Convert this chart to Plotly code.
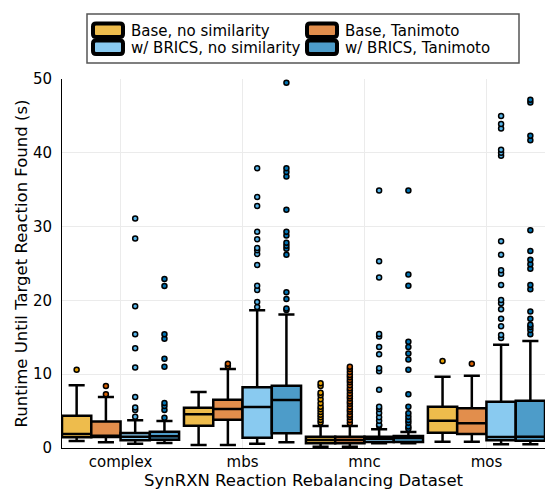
import plotly.graph_objects as go

categories = ["complex", "mbs", "mnc", "mos"]
series_names = ["Base, no similarity", "Base, Tanimoto",
                "w/ BRICS, no similarity", "w/ BRICS, Tanimoto"]
x_title = "SynRXN Reaction Rebalancing Dataset"
y_title = "Runtime Until Target Reaction Found (s)"

# box statistics per series, one value per category
base_nosim_q1 = [1.45, 3.03, 0.64, 2.08]
base_nosim_med = [1.90, 4.56, 1.08, 3.70]
base_nosim_q3 = [4.38, 5.46, 1.53, 5.60]
base_nosim_lo = [0.95, 0.40, 0.18, 0.86]
base_nosim_hi = [8.49, 7.59, 2.98, 9.66]
base_nosim_out = [[10.6], [],
                  [3.47, 3.79, 4.15, 4.51, 4.88, 5.24, 5.60, 6.05, 6.60, 7.14, 7.50, 8.40, 8.76],
                  [11.8]]

base_tani_q1 = [1.49, 3.84, 0.64, 1.90]
base_tani_med = [1.67, 5.28, 1.08, 3.34]
base_tani_q3 = [3.60, 6.55, 1.53, 5.37]
base_tani_lo = [0.77, 0.40, 0.18, 0.86]
base_tani_hi = [6.90, 10.7, 2.98, 9.80]
base_tani_out = [[7.3, 8.4], [11.1, 11.4],
                 [3.4, 3.8, 4.2, 4.5, 4.9, 5.2, 5.6, 6.0, 6.3, 6.7, 7.0, 7.4, 7.8, 8.1,
                  8.5, 8.9, 9.2, 9.6, 9.9, 10.3, 10.7, 11.0],
                 [11.4]]

brics_nosim_q1 = [1.04, 1.40, 0.81, 1.04]
brics_nosim_med = [1.53, 5.56, 1.26, 1.49]
brics_nosim_q3 = [2.03, 8.22, 1.53, 6.28]
brics_nosim_lo = [0.58, 0.58, 0.64, 0.50]
brics_nosim_hi = [3.75, 18.65, 2.53, 14.0]
brics_nosim_out = [[4.25, 5.15, 5.5, 6.9, 10.9, 13.5, 15.4, 19.2, 28.4, 31.1],
                   [19.1, 19.8, 21.4, 22.0, 24.8, 26.3, 26.8, 27.1, 28.3, 29.3, 32.8, 34.0, 37.9],
                   [3.0, 3.16, 3.7, 4.16, 4.74, 5.3, 5.6, 7.9, 10.4, 10.8, 12.7, 13.7, 15.1,
                    15.45, 23.1, 25.3, 34.9],
                   [14.9, 15.3, 16.5, 17.5, 18.8, 19.6, 20.05, 22.1, 23.6, 24.1, 26.2, 28.0,
                    39.6, 40.0, 40.4, 43.3, 43.9, 45.0]]

brics_tani_q1 = [1.13, 1.99, 0.81, 0.99]
brics_tani_med = [1.58, 6.50, 1.36, 1.53]
brics_tani_q3 = [2.21, 8.45, 1.63, 6.40]
brics_tani_lo = [0.68, 0.77, 0.64, 0.50]
brics_tani_hi = [3.66, 18.1, 2.17, 14.5]
brics_tani_out = [[4.1, 5.15, 5.7, 6.1, 11.0, 12.1, 14.8, 15.4, 21.95, 22.9],
                  [18.7, 18.9, 20.2, 21.1, 26.2, 27.0, 27.4, 27.8, 28.8, 29.3, 32.3, 36.8,
                   37.4, 37.9, 49.5],
                  [2.6, 2.9, 3.43, 3.8, 4.24, 4.7, 5.6, 7.3, 10.6, 12.0, 12.8, 13.7, 14.4,
                   22.0, 23.5, 34.9],
                  [15.4, 16.0, 16.4, 16.7, 17.5, 18.5, 21.5, 22.1, 24.3, 24.9, 25.5, 26.7,
                   29.5, 41.7, 42.3, 46.8, 47.2]]

series = [
    (base_nosim_q1, base_nosim_med, base_nosim_q3, base_nosim_lo, base_nosim_hi, base_nosim_out),
    (base_tani_q1, base_tani_med, base_tani_q3, base_tani_lo, base_tani_hi, base_tani_out),
    (brics_nosim_q1, brics_nosim_med, brics_nosim_q3, brics_nosim_lo, brics_nosim_hi, brics_nosim_out),
    (brics_tani_q1, brics_tani_med, brics_tani_q3, brics_tani_lo, brics_tani_hi, brics_tani_out),
]

fill_colors = ["rgb(238,188,76)", "rgb(226,142,76)", "rgb(137,202,240)", "rgb(77,156,201)"]
point_colors = ["#E69F00", "#D55E00", "#56B4E9", "#0072B2"]

FONT = "DejaVu Sans"
group_width = 0.96
n_series = len(series)
box_w = group_width / n_series

fig = go.Figure()

for s, (q1, med, q3, lo, hi, outs) in enumerate(series):
    offset = (s - (n_series - 1) / 2) * box_w
    xs = [i + offset for i in range(len(categories))]
    fig.add_trace(go.Box(
        x=xs, q1=q1, median=med, q3=q3, lowerfence=lo, upperfence=hi,
        width=box_w, fillcolor=fill_colors[s],
        line=dict(color="black", width=2.5), whiskerwidth=0.55,
        boxpoints=False, showlegend=False, name=series_names[s],
    ))
    ox, oy = [], []
    for i, vals in enumerate(outs):
        ox += [xs[i]] * len(vals)
        oy += vals
    fig.add_trace(go.Scatter(
        x=ox, y=oy, mode="markers", showlegend=False,
        marker=dict(size=5, color=point_colors[s], line=dict(color="black", width=1.5)),
    ))

# plot area geometry in pixels
L, R, T, B = 62, 545, 79, 448
W, H = R - L, B - T


def X(px):
    return (px - L) / W


def Y(py):
    return (B - py) / H


def rounded_rect(x0, y0, x1, y1, r):
    # pixel coordinates -> paper path with rounded corners
    p = [
        f"M{X(x0 + r)},{Y(y0)}", f"L{X(x1 - r)},{Y(y0)}",
        f"Q{X(x1)},{Y(y0)} {X(x1)},{Y(y0 + r)}", f"L{X(x1)},{Y(y1 - r)}",
        f"Q{X(x1)},{Y(y1)} {X(x1 - r)},{Y(y1)}", f"L{X(x0 + r)},{Y(y1)}",
        f"Q{X(x0)},{Y(y1)} {X(x0)},{Y(y1 - r)}", f"L{X(x0)},{Y(y0 + r)}",
        f"Q{X(x0)},{Y(y0)} {X(x0 + r)},{Y(y0)}", "Z",
    ]
    return " ".join(p)


shapes = [dict(type="rect", xref="paper", yref="paper", x0=X(87), x1=X(519),
               y0=Y(63), y1=Y(14), line=dict(color="#555555", width=1.5),
               fillcolor="white", layer="below")]
annotations = []
legend_slots = [(0, 0), (1, 0), (0, 1), (1, 1)]  # (col,row) for each series
col_patch_x = [93, 307]
row_patch_y = [(23.5, 37), (40.5, 54)]
col_text_x = [129, 343]
row_text_y = [30.5, 48]
for s, (c, r) in enumerate(legend_slots):
    px0 = col_patch_x[c]
    py0, py1 = row_patch_y[r]
    shapes.append(dict(type="path", xref="paper", yref="paper",
                       path=rounded_rect(px0, py0, px0 + 30, py1, 3),
                       fillcolor=fill_colors[s], line=dict(color="black", width=4)))
    annotations.append(dict(xref="paper", yref="paper", x=X(col_text_x[c]), y=Y(row_text_y[r]),
                            xanchor="left", yanchor="middle", showarrow=False,
                            text=series_names[s], font=dict(family=FONT, size=15, color="black")))

# x axis title placed below the tick labels
annotations.append(dict(xref="paper", yref="paper", x=0.5, y=Y(480),
                        xanchor="center", yanchor="middle", showarrow=False,
                        text=x_title, font=dict(family=FONT, size=16.5, color="black")))

fig.update_layout(
    width=545, height=489,
    margin=dict(l=L, r=545 - R, t=T, b=489 - B),
    plot_bgcolor="white", paper_bgcolor="white",
    font=dict(family=FONT, size=15, color="black"),
    shapes=shapes, annotations=annotations,
    xaxis=dict(range=[-0.5 + (1 - group_width) / 2, len(categories) - 0.5 - (1 - group_width) / 2],
               tickvals=list(range(len(categories))), ticktext=categories,
               showgrid=True, gridcolor="#ebebeb", gridwidth=1,
               showline=True, linecolor="black", linewidth=1, zeroline=False,
               ticks="", tickfont=dict(family=FONT, size=15), automargin=False),
    yaxis=dict(range=[0, 50], tickvals=[0, 10, 20, 30, 40, 50],
               showgrid=True, gridcolor="#ebebeb", gridwidth=1,
               showline=True, linecolor="black", linewidth=1, zeroline=False,
               ticks="outside", ticklen=6, tickcolor="rgba(0,0,0,0)",
               tickfont=dict(family=FONT, size=15), automargin=False,
               title=dict(text=y_title, font=dict(family=FONT, size=16.5), standoff=1)),
)

fig.write_html("out.html")
